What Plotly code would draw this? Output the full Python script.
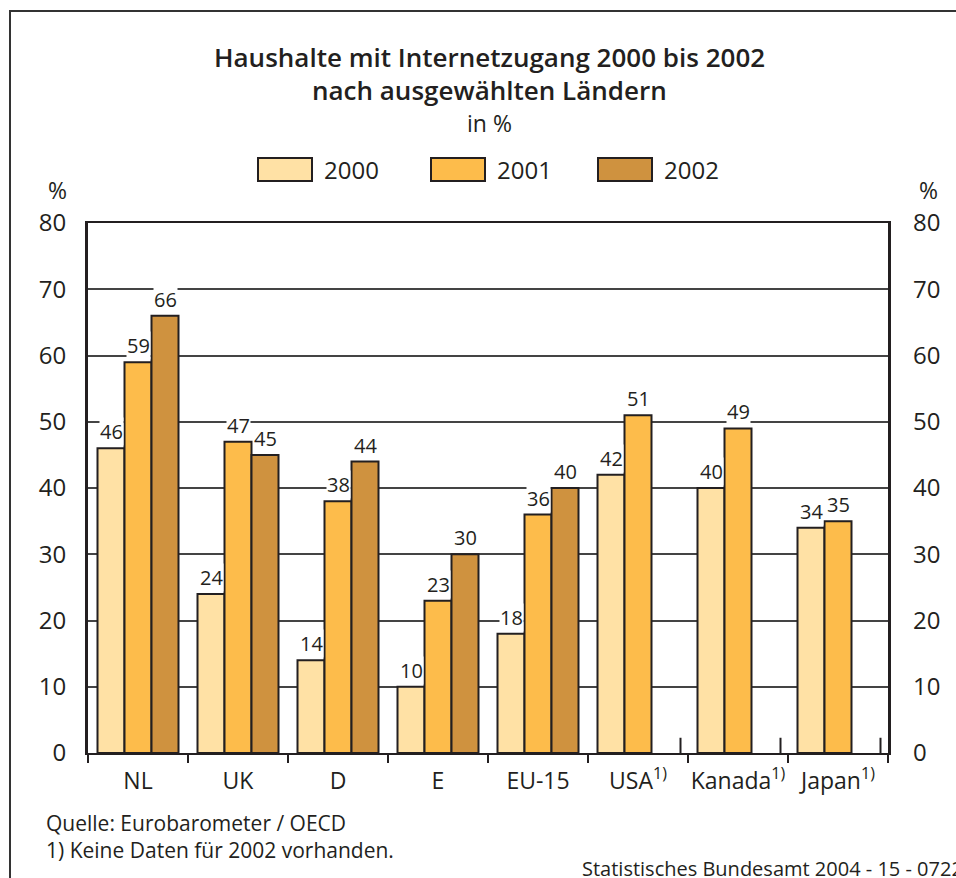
import plotly.graph_objects as go

# data
countries = ["NL", "UK", "D", "E", "EU-15", "USA<sup>1)</sup>", "Kanada<sup>1)</sup>", "Japan<sup>1)</sup>"]
years = ["2000", "2001", "2002"]
v2000 = [46, 24, 14, 10, 18, 42, 40, 34]
v2001 = [59, 47, 38, 23, 36, 51, 49, 35]
v2002 = [66, 45, 44, 30, 40, None, None, None]
y_ticks = [0, 10, 20, 30, 40, 50, 60, 70, 80]

colors = ["#FFE1A5", "#FDBC4B", "#CF923F"]
series = [v2000, v2001, v2002]
FONT = "Open Sans"
INK = "#231f20"

# page geometry (px) -> paper coords
W, H = 956, 878
L, R, T, B = 88, 888, 223, 753


def px(x):
    return (x - L) / (R - L)


def py(y):
    return (B - y) / (B - T)


def label(x, y, text, size, anchor="center", **font):
    return dict(x=px(x), y=py(y), xref="paper", yref="paper", text=text, showarrow=False,
                xanchor=anchor, yanchor="middle",
                font=dict(family=FONT, size=size, color=INK, **font))


xs = list(range(len(countries)))
bar_w = 0.27

fig = go.Figure()
for name, vals, col in zip(years, series, colors):
    fig.add_trace(go.Bar(
        x=xs, y=vals, name=name, marker=dict(color=col, line=dict(color=INK, width=2)),
        hoverinfo="skip", showlegend=False,
    ))
# invisible trace so the right axis is drawn
fig.add_trace(go.Scatter(x=[0], y=[0], yaxis="y2", mode="markers",
                         marker=dict(opacity=0), showlegend=False, hoverinfo="skip"))

annotations = []
shapes = []
for k, vals in enumerate(series):
    for i, v in enumerate(vals):
        if v is None:
            continue
        annotations.append(dict(
            x=i + (k - 1) * bar_w, y=v, xref="x", yref="y", text=str(v), showarrow=False,
            xanchor="center", yanchor="bottom", yshift=2, bgcolor="white", borderpad=0,
            font=dict(family=FONT, size=20, color=INK),
        ))

# small up-ticks at the empty 2002 slot of countries without 2002 data
for i, v in enumerate(v2002):
    if v is None:
        shapes.append(dict(type="line", xref="x", yref="y", x0=i + 1.5 * bar_w + 0.02, x1=i + 1.5 * bar_w + 0.02,
                           y0=0, y1=2.3, line=dict(color=INK, width=2)))

# title block and notes
annotations += [
    label(490, 57, "Haushalte mit Internetzugang 2000 bis 2002", 26, weight=600),
    label(490, 90, "nach ausgewählten Ländern", 26, weight=600),
    label(490, 123, "in %", 23),
    label(57, 190, "%", 23),
    label(928, 190, "%", 23),
    label(44, 823, "Quelle: Eurobarometer / OECD", 21, anchor="left"),
    label(44, 850, "1) Keine Daten für 2002 vorhanden.", 21, anchor="left"),
    label(580, 868, "Statistisches Bundesamt 2004 - 15 - 0722", 20, anchor="left"),
]

# custom legend: big outlined boxes
legend_x = [258, 431, 598]
for lx, name, col in zip(legend_x, years, colors):
    shapes.append(dict(type="rect", xref="paper", yref="paper", x0=px(lx), x1=px(lx + 54),
                       y0=py(181), y1=py(158), fillcolor=col, line=dict(color=INK, width=2)))
    annotations.append(label(lx + 64, 169, name, 24, anchor="left"))

# outer frame
shapes.append(dict(type="rect", xref="paper", yref="paper", x0=px(10), x1=px(975), y0=py(11), y1=py(900),
                   line=dict(color="#333", width=2), layer="below"))

fig.update_layout(
    width=W, height=H, margin=dict(l=L, r=W - R, t=T, b=H - B),
    paper_bgcolor="white", plot_bgcolor="white",
    barmode="group", bargap=0.19, bargroupgap=0,
    font=dict(family=FONT, color=INK),
    xaxis=dict(range=[-0.5, len(countries) - 0.5], tickvals=xs, ticktext=countries, ticks="",
               tickfont=dict(size=23, color=INK), ticklabelstandoff=6,
               showline=True, linecolor=INK, linewidth=2, mirror=True, showgrid=False, zeroline=False,
               minor=dict(tickvals=[i - 0.5 for i in range(len(countries) + 1)], ticks="outside",
                          ticklen=8, tickwidth=2, tickcolor=INK)),
    yaxis=dict(range=[0, 80], tickvals=y_ticks, tickfont=dict(size=24, color=INK), ticklabelstandoff=14,
               showline=True, linecolor=INK, linewidth=3, mirror=True,
               showgrid=True, gridcolor="#444", gridwidth=1.5, zeroline=False),
    yaxis2=dict(range=[0, 80], tickvals=y_ticks, overlaying="y", side="right",
                tickfont=dict(size=24, color=INK), ticklabelstandoff=24,
                showgrid=False, zeroline=False, showline=False),
    annotations=annotations, shapes=shapes,
)

fig.write_html("out.html", config={"displayModeBar": False},
               post_script="document.body.style.margin='0';")
